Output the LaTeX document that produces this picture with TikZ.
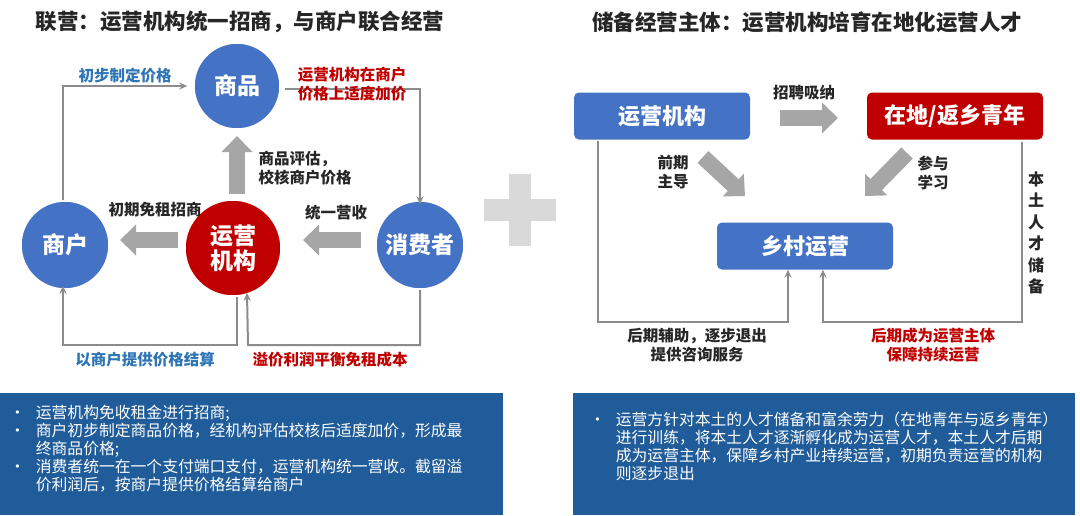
\documentclass[tikz,border=0pt]{standalone}
\usepackage{fontspec}
\setmainfont{Noto Sans CJK SC}
\usetikzlibrary{arrows.meta,shapes.arrows}
\definecolor{bluc}{HTML}{4472C4}
\definecolor{redc}{HTML}{C00000}
\definecolor{grya}{HTML}{A6A6A6}
\definecolor{gryl}{HTML}{8C8C8C}
\definecolor{bltx}{HTML}{2E75B6}
\definecolor{boxb}{HTML}{1F5C99}
\definecolor{ttl}{HTML}{262626}
\tikzset{
  x=1pt,y=-1pt,
  circ/.style={circle,draw=white,line width=1.5pt,text=white,font=\bfseries\fontsize{23}{25}\selectfont,align=center,inner sep=0pt},
  rbox/.style={rounded corners=5pt,text=white,font=\bfseries\fontsize{22}{24}\selectfont,minimum width=176pt,minimum height=47pt},
  lab/.style={font=\bfseries\fontsize{15.5}{19}\selectfont,text=ttl,align=center},
  flow/.style={gryl,line width=2pt,-{Stealth[length=8pt,width=7pt]}},
  fat/.style={grya,line width=16pt,-{Triangle[length=16pt,width=30pt]}},
  note/.style={text=white,font=\fontsize{15.8}{18}\selectfont,align=left,anchor=north west}
}
\begin{document}
\begin{tikzpicture}
\useasboundingbox (0,0) rectangle (1080,515);
\fill[white] (0,0) rectangle (1080,515);
% titles
\node[font=\bfseries\fontsize{21.5}{24}\selectfont,text=ttl] (tleft) at (240,22) {联营：运营机构统一招商，与商户联合经营};
\node[font=\bfseries\fontsize{21.5}{24}\selectfont,text=ttl] (tright) at (807,22) {储备经营主体：运营机构培育在地化运营人才};

% left cycle
\node[circ,fill=bluc,minimum size=86pt] (goods) at (237,86) {商品};
\node[circ,fill=bluc,minimum size=88pt] (shop) at (65,245) {商户};
\node[circ,fill=redc,minimum size=96pt] (org) at (233,248) {运营\\机构};
\node[circ,fill=bluc,minimum size=88pt] (cons) at (420,245) {消费者};

\draw[flow] (shop.north) ++(-2,0) |- ([xshift=-6pt]goods.west);
\draw[flow] ([xshift=4pt,yshift=-3pt]goods.east) -| ([yshift=-4pt]cons.north);
\draw[flow] ([xshift=4pt]org.south) |- (63,345) -- ([xshift=-2pt,yshift=4pt]shop.south);
\draw[flow] (cons.south) |- (248,345) -- ([xshift=14pt,yshift=4pt]org.south);

\draw[fat] (237,194) -- (237,136);
\draw[fat] (178,240) -- (120,240);
\draw[fat] (361,240) -- (303,240);

\node[lab,text=bltx] (l1) at (125,76) {初步制定价格};
\node[lab,text=redc,align=left] (l2) at (352,84) {运营机构在商户\\价格上适度加价};
\node[lab,align=left] (l3) at (305,168) {商品评估，\\校核商户价格};
\node[lab] (l4) at (155,210) {初期免租招商};
\node[lab] (l5) at (336,213) {统一营收};
\node[lab,text=bltx] (l6) at (145,360) {以商户提供价格结算};
\node[lab,text=redc] (l7) at (330,360) {溢价利润平衡免租成本};

% plus
\fill[gray!30] (484,199) rectangle (556,221);
\fill[gray!30] (509,174) rectangle (531,246);

% right diagram
\node[rbox,fill=bluc] (rorg) at (662,116) {运营机构};
\node[rbox,fill=redc] (youth) at (955,116) {在地/返乡青年};
\node[rbox,fill=bluc] (rural) at (805,246) {乡村运营};

\draw[fat] (780,118) -- (838,118);
\draw[fat] (703,157) -- (745,196);
\draw[fat] (907,153) -- (865,196);

\draw[flow] (598,141) |- (788,322) -- ([xshift=-17pt]rural.south);
\draw[flow] (1022,142) |- (823,322) -- ([xshift=18pt]rural.south);

\node[lab] (r1) at (804,93) {招聘吸纳};
\node[lab] (r2) at (673,172) {前期\\主导};
\node[lab] (r3) at (933,173) {参与\\学习};
\node[lab,font=\bfseries\fontsize{16}{21.5}\selectfont] (r4) at (1036,233) {本\\土\\人\\才\\储\\备};
\node[lab] (r5) at (697,345) {后期辅助，逐步退出\\提供咨询服务};
\node[lab,text=redc] (r6) at (933,345) {后期成为运营主体\\保障持续运营};

% bottom notes
\fill[boxb] (0,393) rectangle (503,515);
\fill[boxb] (573,393) rectangle (1075,515);
\node[note,text width=495pt] (nleft) at (6,402) {%
\textbullet\ \ 运营机构免收租金进行招商;\\
\textbullet\ \ 商户初步制定商品价格，经机构评估校核后适度加价，形成最\\
\phantom{\textbullet\ \ }终商品价格;\\
\textbullet\ \ 消费者统一在一个支付端口支付，运营机构统一营收。截留溢\\
\phantom{\textbullet\ \ }价利润后，按商户提供价格结算给商户};
\node[note,text width=495pt] (nright) at (586,408) {%
\textbullet\ \ 运营方针对本土的人才储备和富余劳力（在地青年与返乡青年）\\
\phantom{\textbullet\ \ }进行训练，将本土人才逐渐孵化成为运营人才，本土人才后期\\
\phantom{\textbullet\ \ }成为运营主体，保障乡村产业持续运营，初期负责运营的机构\\
\phantom{\textbullet\ \ }则逐步退出};
\end{tikzpicture}
\end{document}
